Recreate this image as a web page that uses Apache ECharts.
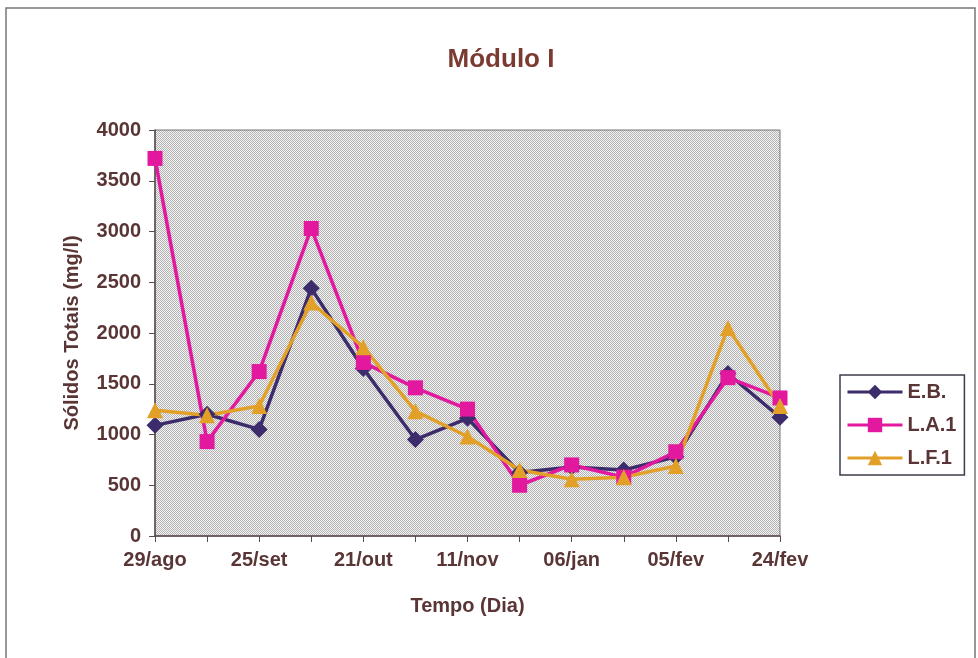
<!DOCTYPE html>
<html>
<head>
<meta charset="utf-8">
<script src="https://cdn.jsdelivr.net/npm/echarts@6/dist/echarts.min.js"></script>
<style>
  html, body { margin: 0; padding: 0; background: #fff; }
  #chart { width: 978px; height: 658px; }
</style>
</head>
<body>
<div id="chart"></div>
<script>
// datas; só se rotulam as datas visíveis
var dias = ['29/ago', '', '25/set', '', '21/out', '', '11/nov', '', '06/jan', '', '05/fev', '', '24/fev']
var eb  = [1090, 1200, 1050, 2440, 1650, 950, 1160, 625, 680, 650, 780, 1600, 1170]
var la1 = [3720, 930, 1620, 3030, 1710, 1460, 1250, 500, 700, 580, 830, 1560, 1360]
var lf1 = [1240, 1190, 1280, 2300, 1860, 1230, 980, 650, 560, 580, 690, 2050, 1280]
var yTicks = [0, 500, 1000, 1500, 2000, 2500, 3000, 3500, 4000]

var fonte = '"Liberation Sans", Arial, sans-serif'
var corTexto = '#5a3535'

// fundo pontilhado da área do gráfico
var pc = document.createElement('canvas')
pc.width = 2; pc.height = 2
var ctx = pc.getContext('2d')
ctx.fillStyle = '#f4f4f4'; ctx.fillRect(0, 0, 2, 2)
ctx.fillStyle = '#b2b2b2'; ctx.fillRect(0, 0, 1, 1); ctx.fillRect(1, 1, 1, 1)

var myChart = echarts.init(document.getElementById('chart'))

function serie (nome, dados, cor, simbolo, tam) {
  return {
    name: nome,
    type: 'line',
    data: dados,
    symbol: simbolo,
    symbolSize: tam,
    lineStyle: { color: cor, width: 3.5 },
    itemStyle: { color: cor },
    animation: false
  }
}

myChart.setOption({
  backgroundColor: '#fff',
  title: {
    text: 'Módulo I',
    left: 496,
    top: 42,
    textAlign: 'center',
    textStyle: { color: '#7a3b32', fontSize: 26, fontWeight: 'bold', fontFamily: fonte }
  },
  graphic: [{
    type: 'rect',
    shape: { x: 6, y: 8, width: 969, height: 700 },
    style: { fill: 'none', stroke: '#777', lineWidth: 1.5 }
  }],
  legend: {
    orient: 'vertical',
    left: 840,
    top: 375,
    width: 123,
    padding: [7, 8, 7, 6],
    itemWidth: 55,
    itemHeight: 18,
    itemGap: 13,
    backgroundColor: '#fff',
    borderColor: '#3c3c4a',
    borderWidth: 1.5,
    lineStyle: { width: 3 },
    textStyle: { color: corTexto, fontSize: 20, fontWeight: 'bold', fontFamily: fonte },
    data: ['E.B.', 'L.A.1', 'L.F.1']
  },
  grid: {
    left: 155,
    right: 198,
    top: 130,
    bottom: 122,
    show: true,
    backgroundColor: { image: pc, repeat: 'repeat' },
    borderColor: '#777',
    borderWidth: 1
  },
  xAxis: {
    type: 'category',
    data: dias,
    boundaryGap: false,
    name: 'Tempo (Dia)',
    nameLocation: 'middle',
    nameGap: 60,
    nameTextStyle: { color: corTexto, fontSize: 20, fontWeight: 'bold', fontFamily: fonte },
    axisLine: { lineStyle: { color: '#5a4a4a', width: 1.5 } },
    axisTick: { show: true, interval: 0, inside: false, length: 6, lineStyle: { color: '#5a4a4a' } },
    axisLabel: { interval: 1, margin: 14, color: corTexto, fontSize: 20, fontWeight: 'bold', fontFamily: fonte },
    splitLine: { show: false }
  },
  yAxis: {
    type: 'value',
    min: yTicks[0],
    max: yTicks[yTicks.length - 1],
    interval: 500,
    name: 'Sólidos Totais (mg/l)',
    nameLocation: 'middle',
    nameGap: 73,
    nameRotate: 90,
    nameTextStyle: { color: corTexto, fontSize: 20, fontWeight: 'bold', fontFamily: fonte },
    axisLine: { show: true, lineStyle: { color: '#5a4a4a', width: 1.5 } },
    axisTick: { show: true, length: 6, lineStyle: { color: '#5a4a4a' } },
    axisLabel: { margin: 14, color: corTexto, fontSize: 20, fontWeight: 'bold', fontFamily: fonte,
      formatter: function (v) { return String(v) } },
    splitLine: { show: false }
  },
  series: [
    serie('E.B.', eb, '#3d2c6c', 'diamond', 17),
    serie('L.A.1', la1, '#e2189e', 'rect', 15),
    serie('L.F.1', lf1, '#e3a028', 'triangle', 16)
  ]
})
</script>
</body>
</html>
